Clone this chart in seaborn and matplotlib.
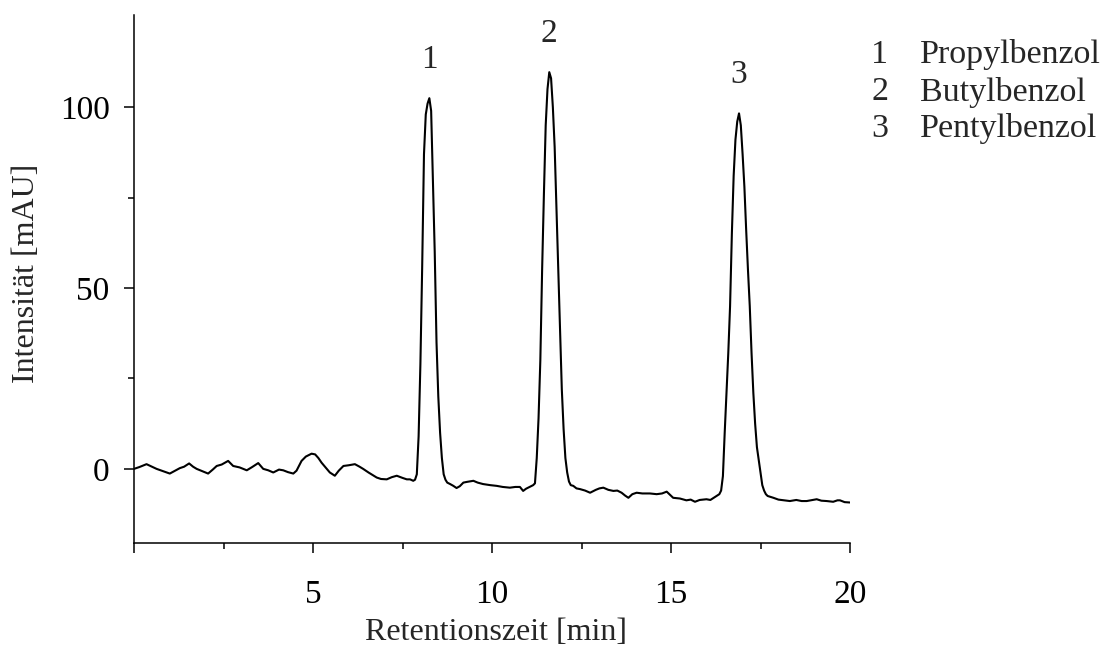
import numpy as np
import pandas as pd
import seaborn as sns
import matplotlib
matplotlib.use("Agg")
import matplotlib.pyplot as plt
from matplotlib.ticker import FixedLocator, FixedFormatter

# ---------------- data ----------------
time_min = [
    0.00, 0.15, 0.35, 0.50, 0.63, 0.80, 1.00, 1.15, 1.28, 1.40, 1.54, 1.65, 1.75, 1.90,
    2.07, 2.20, 2.31, 2.45, 2.63, 2.77, 2.95, 3.15, 3.30, 3.47, 3.61, 3.75, 3.89, 4.05,
    4.17, 4.30, 4.45, 4.54, 4.68, 4.80, 4.96, 5.06, 5.15, 5.24, 5.35, 5.47, 5.61, 5.72,
    5.85, 6.00, 6.17, 6.30, 6.40, 6.55, 6.78, 6.90, 7.06, 7.20, 7.34, 7.50, 7.62, 7.71,
    7.80,
    # peak 1
    7.85, 7.90, 7.95, 8.00, 8.05, 8.10, 8.15, 8.20, 8.25, 8.30, 8.35, 8.40, 8.45, 8.50,
    8.55, 8.60, 8.65, 8.70,
    8.75, 8.83, 8.92, 9.01, 9.10, 9.20, 9.30, 9.48, 9.60, 9.75, 9.95, 10.13, 10.30, 10.50,
    10.65, 10.78, 10.87, 10.95, 11.05, 11.11, 11.15,
    # peak 2
    11.20, 11.25, 11.30, 11.35, 11.40, 11.45, 11.50, 11.55, 11.60, 11.65, 11.70, 11.75,
    11.80, 11.85, 11.90, 11.95, 12.00, 12.05, 12.10, 12.15, 12.20,
    12.27, 12.36, 12.46, 12.60, 12.74, 12.90, 13.00, 13.11, 13.25, 13.39, 13.50, 13.62,
    13.72, 13.81, 13.92, 14.04, 14.20, 14.41, 14.60, 14.75, 14.88, 15.06, 15.25, 15.43,
    15.55, 15.67, 15.80, 15.99, 16.10, 16.27, 16.35,
    # peak 3
    16.40, 16.45, 16.50, 16.55, 16.60, 16.65, 16.70, 16.75, 16.80, 16.85, 16.90, 16.95,
    17.00, 17.05, 17.10, 17.15, 17.20, 17.25, 17.30, 17.35, 17.40, 17.45, 17.50, 17.55,
    17.60, 17.65, 17.70,
    17.86, 18.00, 18.15, 18.32, 18.50, 18.65, 18.79, 18.95, 19.07, 19.20, 19.35, 19.53,
    19.65, 19.72, 19.85, 20.00,
]

intensity_mau = [
    0.0, 0.5, 1.3, 0.6, 0.0, -0.6, -1.3, -0.5, 0.2, 0.6, 1.5, 0.6, 0.0, -0.6,
    -1.3, -0.2, 0.8, 1.2, 2.2, 0.8, 0.4, -0.4, 0.5, 1.6, 0.0, -0.4, -1.0, -0.2,
    -0.4, -0.9, -1.3, -0.5, 2.2, 3.4, 4.2, 4.0, 3.0, 1.7, 0.4, -1.0, -1.9, -0.5,
    0.8, 1.0, 1.3, 0.6, 0.0, -1.0, -2.4, -2.8, -2.9, -2.3, -1.9, -2.5, -2.9, -2.9,
    -3.3,
    # peak 1
    -3.0, -1.5, 9.0, 29.0, 56.0, 87.0, 98.0, 101.0, 102.5, 99.0, 80.0, 60.0, 35.0, 20.0,
    10.0, 3.0, -1.5, -3.0,
    -3.8, -4.2, -4.7, -5.3, -4.8, -3.8, -3.6, -3.3, -3.8, -4.2, -4.5, -4.7, -5.0, -5.2,
    -5.0, -5.0, -6.1, -5.5, -5.0, -4.7, -4.5,
    # peak 2
    -4.0, 3.0, 14.0, 30.0, 55.0, 76.0, 95.0, 105.0, 109.7, 108.0, 100.0, 89.0,
    72.0, 55.0, 37.0, 22.0, 11.0, 3.0, -1.0, -3.5, -4.5,
    -4.7, -5.4, -5.6, -6.0, -6.6, -5.8, -5.4, -5.2, -5.8, -6.1, -6.0, -6.6,
    -7.4, -8.0, -7.0, -6.6, -6.8, -6.8, -7.0, -6.8, -6.3, -8.0, -8.2, -8.7,
    -8.5, -9.1, -8.6, -8.4, -8.6, -7.5, -7.0,
    # peak 3
    -6.0, -2.0, 10.0, 21.0, 32.0, 45.0, 65.0, 81.0, 91.0, 96.0, 98.3, 95.0,
    87.0, 78.0, 66.0, 55.0, 45.0, 32.0, 21.0, 12.5, 6.0, 2.5, -1.0, -4.5,
    -6.0, -7.0, -7.5,
    -8.0, -8.5, -8.7, -8.9, -8.6, -8.9, -8.9, -8.6, -8.4, -8.8, -8.9, -9.1,
    -8.7, -8.7, -9.2, -9.3,
]

peak_numbers = ["1", "2", "3"]
compounds = ["Propylbenzol", "Butylbenzol", "Pentylbenzol"]
peak_windows = [(7.5, 9.0), (11.0, 12.5), (16.0, 17.8)]

x_major = [0, 5, 10, 15, 20]
x_major_labels = ["", "5", "10", "15", "20"]
x_minor = [2.5, 7.5, 12.5, 17.5]
y_major = [0, 50, 100]
y_minor = [25, 75]

df = pd.DataFrame({"t": time_min, "y": intensity_mau})

# ---------------- style ----------------
sns.set_style("ticks")
plt.rcParams["font.family"] = ["Liberation Serif", "DejaVu Serif"]
plt.rcParams["font.size"] = 24

W, H = 1107, 648
fig = plt.figure(figsize=(W / 100, H / 100), dpi=100)
ax = fig.add_axes([134 / W, 1 - 543 / H, (850 - 134) / W, (543 - 15) / H])

sns.lineplot(data=df, x="t", y="y", ax=ax, color="black", linewidth=1.5,
             estimator=None, sort=False)

ax.set_xlim(0, 20)
ax.set_ylim(-20.5, 125.5)

for side in ("top", "right"):
    ax.spines[side].set_visible(False)
for side in ("left", "bottom"):
    ax.spines[side].set_linewidth(1.1)
    ax.spines[side].set_color("black")

ax.xaxis.set_major_locator(FixedLocator(x_major))
ax.xaxis.set_major_formatter(FixedFormatter(x_major_labels))
ax.xaxis.set_minor_locator(FixedLocator(x_minor))
ax.yaxis.set_major_locator(FixedLocator(y_major))
ax.yaxis.set_minor_locator(FixedLocator(y_minor))

ax.tick_params(axis="both", which="major", direction="out", length=7.5, width=1.1,
               colors="black", labelsize=24)
ax.tick_params(axis="both", which="minor", direction="out", length=4.5, width=1.1,
               colors="black")
ax.tick_params(axis="x", which="major", pad=19)
ax.tick_params(axis="y", which="major", pad=10)

ax.set_xlabel("Retentionszeit [min]", fontsize=23)
ax.set_ylabel("Intensität [mAU]", fontsize=23)
ax.xaxis.label.set_va("center")
ax.yaxis.label.set_va("center")
ax.xaxis.set_label_coords(0.5 + 4 / 716, -(633 - 543) / 528)
ax.yaxis.set_label_coords((27 - 134) / 716, 0.5 + 6 / 528)

# peak numbers above apexes
tt = np.asarray(time_min)
yy = np.asarray(intensity_mau)
for num, (lo, hi) in zip(peak_numbers, peak_windows):
    m = (tt >= lo) & (tt <= hi)
    i = np.argmax(np.where(m, yy, -np.inf))
    ax.text(tt[i], yy[i] + 10.7, num, ha="center", va="center", fontsize=24)

# legend as text list
row_y = [55, 92, 129]
for num, name, ry in zip(peak_numbers, compounds, row_y):
    fig.text(880 / W, 1 - ry / H, num, ha="center", va="center", fontsize=24.5)
    fig.text(920 / W, 1 - ry / H, name, ha="left", va="center", fontsize=24.5)

fig.savefig("out.png", dpi=100)
